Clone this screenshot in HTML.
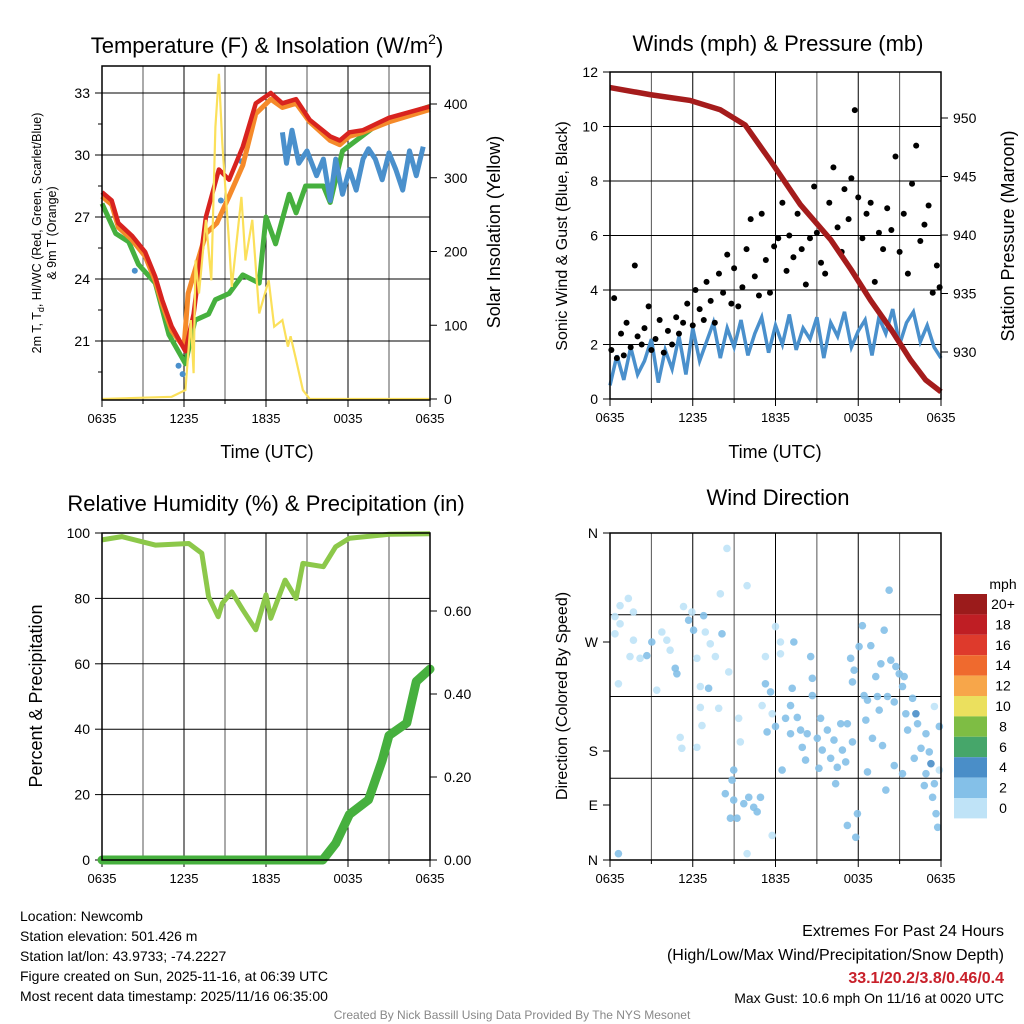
<!DOCTYPE html>
<html><head><meta charset="utf-8">
<style>
html,body{margin:0;padding:0;background:#fff;}
svg{display:block;font-family:"Liberation Sans",sans-serif;}
</style></head>
<body>
<svg id="s" width="1024" height="1024" viewBox="0 0 1024 1024" xmlns="http://www.w3.org/2000/svg"></svg>
<script>
// ===== Data =====
const xTickLabels = ["0635","1235","1835","0035","0635"];
const redTimes = [0,0.71,1.2,2.18,3.16,3.9,4.4,5.1,6.1,6.7,7.6,8.55,9.3,10.3,11.25,12.35,13.2,14.2,15.2,16.7,17.4,18.1,19.1,21.0,24];
const tempRed =  [28.2,27.8,26.7,26.1,25.3,24.1,23.0,21.7,20.5,22.3,27.0,29.3,28.8,30.4,32.5,33.0,32.5,32.7,31.7,30.9,30.7,31.1,31.2,31.8,32.35];
const orangeTimes = [0,0.71,1.2,2.18,3.16,3.9,4.4,5.1,6.0,6.3,7.6,8.4,9.3,10.3,11.25,12.35,13.2,14.2,15.2,16.7,17.4,18.1,19.1,21.0,24];
const tempOrange =  [28.0,27.6,26.5,25.9,25.1,23.9,22.8,21.5,20.7,23.3,26.2,26.7,28.0,29.5,32.0,32.7,32.3,32.5,31.6,30.7,30.5,30.9,31.1,31.6,32.2];
const greenTimes = [0,1.0,1.95,2.67,3.9,4.9,6.1,6.8,7.8,8.3,9.3,10.3,11.5,12.0,12.7,13.7,14.2,14.9,16.2,16.7,17.6,18.6,20.0,21.0,24];
const tempGreen =  [27.65,26.2,25.8,24.7,23.8,21.3,19.9,22.0,22.3,23.0,23.3,24.2,23.8,27.0,25.7,28.1,27.2,28.5,28.5,27.7,30.2,30.7,31.4,31.7,32.35];
const blueTimes = [13.2,13.5,13.9,14.4,15.0,15.7,16.2,16.7,17.1,17.6,18.1,18.6,19.1,19.5,20.0,20.5,21.0,21.5,22.0,22.5,23.0,23.5];
const tempBlue =  [31.1,29.6,31.2,29.6,30.2,29.0,29.8,27.8,29.8,28.1,29.3,28.3,29.8,30.3,29.8,28.8,30.1,29.3,28.3,30.2,29.0,30.4];
const blueDotTimes = [2.4,5.6,5.9,8.7,10.2,10.6];
const blueDotVals =  [24.4,19.8,19.4,27.8,29.7,30.4];
const solarTimes = [0,5.1,6.1,6.5,6.7,6.84,7.1,7.6,8.0,8.3,8.55,8.8,9.3,9.5,10.2,10.5,11.0,11.5,12.2,12.6,13.2,13.6,13.8,14.2,14.7,15.2,24];
const solarVals =  [0,3,12,107,35,188,143,243,161,369,441,347,211,152,274,188,243,116,161,98,107,71,85,53,12,0,0];
const windTimes = [0,0.5,1,1.5,2,2.5,3,3.5,4,4.5,5,5.5,6,6.5,7,7.5,8,8.5,9,9.5,10,10.5,11,11.5,12,12.5,13,13.5,14,14.5,15,15.5,16,16.5,17,17.5,18,18.5,19,19.5,20,20.5,21,21.5,22,22.5,23,23.5,24];
const windVals =  [0.5,1.6,0.7,1.9,0.9,1.4,2.2,0.6,1.8,1.1,2.3,0.9,2.6,1.4,2.1,2.8,1.5,2.6,1.9,2.9,1.6,2.4,3.0,1.7,2.7,2.0,3.1,1.8,2.6,2.2,3.0,1.5,2.8,2.3,3.2,1.9,2.5,2.9,1.6,3.0,2.4,3.3,2.0,2.8,3.2,2.1,2.7,1.9,1.5];
const pressTimes = [0,2.9,5.8,8,9.8,11.6,13.8,16,17.5,18.9,20.4,21.8,22.9,24];
const pressVals =  [952.6,952.0,951.5,950.7,949.4,946.4,942.6,939.6,937.0,934.4,931.9,929.3,927.6,926.6];
const gustTimes = [0.1,0.3,0.5,0.8,1.0,1.2,1.5,1.8,2.0,2.3,2.5,2.8,3.0,3.3,3.6,3.9,4.2,4.5,4.8,5.0,5.3,5.6,6.0,6.2,6.5,6.8,7.0,7.3,7.6,7.9,8.2,8.5,8.8,9.0,9.3,9.6,9.9,10.2,10.5,10.8,11.0,11.3,11.6,11.9,12.2,12.5,12.8,13.0,13.3,13.6,13.9,14.2,14.5,14.8,15.0,15.3,15.6,15.9,16.2,16.5,16.8,17.0,17.3,17.5,17.75,18.0,18.3,18.6,18.9,19.2,19.5,19.8,20.1,20.4,20.7,21.0,21.3,21.6,21.9,22.2,22.5,22.8,23.1,23.4,23.7,23.9];
const gustVals =  [1.8,3.7,1.5,2.4,1.6,2.8,1.9,4.9,2.3,2.0,2.6,3.4,1.8,2.2,2.9,1.7,2.5,2.0,3.0,2.4,2.8,3.5,2.7,4.0,3.3,2.9,4.3,3.6,2.8,4.6,3.9,5.3,3.5,4.8,3.4,4.1,5.5,6.6,4.5,3.8,6.8,5.1,3.9,5.6,5.9,7.2,4.7,6.0,5.2,6.8,5.5,4.2,5.9,7.8,6.1,5.0,4.6,7.2,8.5,6.3,5.4,7.7,6.6,8.1,10.6,7.4,5.9,6.8,7.2,4.3,6.1,5.5,7.0,6.2,8.9,5.4,6.8,4.6,7.9,9.3,5.8,6.4,7.1,3.9,4.9,4.1];
const rhTimes = [0,1.45,3.9,6.35,7.3,7.8,8.5,8.8,9.5,10.3,11.25,12.0,12.35,13.4,14.2,14.7,16.2,17.1,18.1,21.0,24];
const rhVals =  [97.9,98.9,96.3,96.8,93.8,80.5,74.4,78.5,82.0,76.5,70.4,81.1,73.9,85.6,80.0,90.7,89.7,95.8,98.4,99.6,99.8];
const precipTimes = [0,16.15,17.1,18.1,19.5,20.5,21.0,22.3,23.0,24];
const precipVals =  [0,0,0.04,0.11,0.145,0.24,0.30,0.33,0.43,0.46];
const dirTimes = [0.36,0.73,1.33,1.70,0.73,0.36,0.61,1.70,1.45,2.18,2.67,3.03,3.76,4.12,4.36,4.85,4.73,3.39,5.33,5.70,6.06,5.94,6.79,6.91,7.27,8.12,7.64,6.30,6.55,7.15,8.61,8.00,8.48,9.94,6.55,6.67,5.09,5.21,6.30,7.88,9.33,9.45,8.97,8.85,8.36,8.97,9.21,8.73,9.70,10.06,10.42,10.67,10.91,9.94,11.76,11.27,12.0,12.36,12.36,11.27,11.64,12.0,11.39,11.03,11.76,12.48,12.73,13.21,13.09,13.33,13.58,13.09,13.82,13.94,14.18,14.55,14.67,14.67,14.30,15.03,15.27,15.39,15.15,15.76,16.0,16.24,16.36,16.48,16.73,16.85,17.09,17.21,17.45,17.58,17.70,17.58,17.94,17.21,17.82,18.06,18.30,18.42,18.67,18.55,18.91,18.67,19.03,19.27,19.39,19.52,19.76,19.88,19.64,20.12,20.24,20.36,20.61,20.73,20.97,21.21,21.33,20.0,20.61,21.21,21.45,21.58,21.94,22.18,22.30,22.06,22.55,22.91,23.15,23.27,22.91,22.79,23.39,23.52,23.64,23.76,23.88,23.52,23.88,0.61];
const dirDegs =  [268,280,288,273,260,249,194,242,224,222,225,240,251,242,231,205,211,187,279,264,253,273,269,251,238,249,224,222,191,189,207,293,343,302,168,148,135,123,124,167,156,130,99,88,73,66,46,46,62,69,58,53,69,7,27,224,257,240,227,194,185,147,141,170,161,99,156,189,170,240,157,139,143,124,110,224,200,181,139,134,156,121,101,143,112,132,84,102,150,121,108,150,222,196,209,130,51,38,25,235,258,181,176,154,236,97,134,202,180,165,126,253,216,180,297,220,174,213,205,191,202,77,104,95,161,143,178,161,150,112,123,139,119,106,95,82,69,84,51,36,99,169,147,7];
const dirSpeed = [1,1,1,1,1,1,1,1,1,1,3,3,1,1,1,3,3,1,1,3,3,1,3,1,1,3,1,1,1,3,1,1,1,1,1,1,1,1,1,1,1,1,3,3,3,3,3,3,3,3,3,3,3,1,1,1,1,1,1,3,3,3,3,1,1,3,3,3,3,3,3,3,3,3,3,3,3,3,3,3,3,3,3,3,3,3,3,3,3,3,3,3,3,3,3,3,3,3,3,3,3,3,3,3,3,3,3,3,3,3,3,3,3,3,3,3,3,3,3,3,3,3,3,3,3,3,3,5,3,3,3,3,3,5,3,3,3,3,3,3,1,1,3,3,3,1];
const speedLabels = ["20+","18","16","14","12","10","8","6","4","2","0"];
const speedColors = ["#9b1b1b","#bf1e24","#de3a2c","#ef6a2e","#f7a64a","#ebe05e","#7ebd44","#46a66a","#4a8ec8","#84c0e8","#bfe3f7"];

// ===== Helpers =====
const svg = document.getElementById('s');
const NS = "http://www.w3.org/2000/svg";
function mk(tag, attrs, parent){ const e=document.createElementNS(NS,tag); for(const k in attrs) e.setAttribute(k,attrs[k]); (parent||svg).appendChild(e); return e; }
function txt(x,y,s,size,anchor,extra){ const e=mk('text',Object.assign({x:x,y:y,'font-size':size,'text-anchor':anchor||'middle',fill:'#000'},extra||{})); e.textContent=s; return e; }
function lin(d0,d1,r0,r1){ return v=> r0+(v-d0)*(r1-r0)/(d1-d0); }
function pathOf(ts,vs,fx,fy){ const n=Math.min(ts.length,vs.length); let d=''; for(let i=0;i<n;i++) d+=(i?'L':'M')+fx(ts[i]).toFixed(1)+','+fy(vs[i]).toFixed(1); return d; }
function colorFor(s){ const i=Math.min(10,Math.floor(s/2)); return speedColors[10-i]; }
function frame(name){ const g=mk('g',{});   return g; }
function xAxis(g,x0,x1,yb){
  const fx=lin(0,24,x0,x1);
  for(let h=0;h<=24;h+=3){ const X=fx(h); mk('line',{x1:X,y1:yb,x2:X,y2:yb+(h%6?4:7),stroke:'#000','stroke-width':1},g); }
  xTickLabels.forEach((s,i)=>{ const l=txt(fx(i*6),yb+23,s,13,'middle');   });
  return fx;
}
function vgrid(g,fx,y0,y1){ for(let h=3;h<24;h+=3){ mk('line',{x1:fx(h),y1:y0,x2:fx(h),y2:y1,stroke:(h%6?'#555':'#000'),'stroke-width':1},g);} }
function box(g,x0,y0,x1,y1){ mk('rect',{x:x0,y:y0,width:x1-x0,height:y1-y0,fill:'none',stroke:'#000','stroke-width':1.5},g); }

// ===== Panel 1: Temperature =====
{
  const X0=102,X1=430,Y0=66,Y1=400;
  const g=frame('temperature-panel');
  const fx=lin(0,24,X0,X1);
  const fy=lin(33,21,93,341);
  const fs=lin(0,400,399,104);
  vgrid(g,fx,Y0,Y1);
  [33,30,27,24,21].forEach(v=>{ mk('line',{x1:X0,y1:fy(v),x2:X1,y2:fy(v),stroke:'#000'},g); mk('line',{x1:X0-7,y1:fy(v),x2:X0,y2:fy(v),stroke:'#000'},g); const l=txt(X0-12,fy(v)+5,String(v),14,'end');   });
  [31.5,28.5,25.5,22.5,19.5].forEach(v=>mk('line',{x1:X0-4,y1:fy(v),x2:X0,y2:fy(v),stroke:'#000'},g));
  [0,100,200,300,400].forEach(v=>{ mk('line',{x1:X1,y1:fs(v),x2:X1+7,y2:fs(v),stroke:'#000'},g); const l=txt(X1+14,fs(v)+5,String(v),14,'start');   });
  xAxis(g,X0,X1,Y1);
  const gr=mk('path',{d:pathOf(greenTimes,tempGreen,fx,fy),fill:'none',stroke:'#46b03e','stroke-width':5,'stroke-linejoin':'round'},g);
   
  const bl=mk('path',{d:pathOf(blueTimes,tempBlue,fx,fy),fill:'none',stroke:'#4a90cc','stroke-width':5,'stroke-linejoin':'round'},g);
   
  blueDotTimes.forEach((t,i)=>{ const c=mk('circle',{cx:fx(t),cy:fy(blueDotVals[i]),r:3,fill:'#4a90cc'},g);   });
  const or=mk('path',{d:pathOf(orangeTimes,tempOrange,fx,fy),fill:'none',stroke:'#f58a2a','stroke-width':5,'stroke-linejoin':'round'},g);
   
  const rd=mk('path',{d:pathOf(redTimes,tempRed,fx,fy),fill:'none',stroke:'#d8231f','stroke-width':4.5,'stroke-linejoin':'round'},g);
   
  const sol=mk('path',{d:pathOf(solarTimes,solarVals,fx,fs),fill:'none',stroke:'#fbe05a','stroke-width':2.2},g);
   
  box(g,X0,Y0,X1,Y1);
  const t=mk('text',{x:267,y:53,'font-size':22,'text-anchor':'middle'});
  t.innerHTML='Temperature (F) &amp; Insolation (W/m<tspan dy="-9" font-size="14">2</tspan><tspan dy="9">)</tspan>';
   
  const xl=txt(267,458,'Time (UTC)',18);  
  const yl=mk('text',{x:0,y:0,'font-size':12.5,'text-anchor':'middle',transform:'translate(41,233) rotate(-90)'});
  yl.innerHTML='2m T, T<tspan dy="3" font-size="9">d</tspan><tspan dy="-3">, HI/WC (Red, Green, Scarlet/Blue)</tspan>';
   
  const yl2=txt(0,0,'& 9m T (Orange)',12.5,'middle',{transform:'translate(56,233) rotate(-90)'});
   
  const yr=txt(0,0,'Solar Insolation (Yellow)',18,'middle',{transform:'translate(500,232) rotate(-90)'});
   
}

// ===== Panel 2: Winds =====
{
  const X0=610,X1=941,Y0=72,Y1=399;
  const g=frame('winds-panel');
  const fx=lin(0,24,X0,X1);
  const fy=lin(0,12,399,72);
  const fp=lin(930,950,352,118);
  vgrid(g,fx,Y0,Y1);
  [0,2,4,6,8,10,12].forEach(v=>{ if(v>0&&v<12) mk('line',{x1:X0,y1:fy(v),x2:X1,y2:fy(v),stroke:'#000'},g); mk('line',{x1:X0-7,y1:fy(v),x2:X0,y2:fy(v),stroke:'#000'},g); const l=txt(X0-12,fy(v)+5,String(v),14,'end');   });
  [930,935,940,945,950].forEach(v=>{ mk('line',{x1:X1,y1:fp(v),x2:X1+7,y2:fp(v),stroke:'#000'},g); const l=txt(X1+12,fp(v)+5,String(v),14,'start');   });
  xAxis(g,X0,X1,Y1);
  const wl=mk('path',{d:pathOf(windTimes,windVals,fx,fy),fill:'none',stroke:'#4a90cc','stroke-width':3.5},g);
   
  gustTimes.forEach((t,i)=>{ const c=mk('circle',{cx:fx(t),cy:fy(gustVals[i]),r:3,fill:'#000'},g);
      });
  const pl=mk('path',{d:pathOf(pressTimes,pressVals,fx,fp),fill:'none',stroke:'#a51c1c','stroke-width':5.5},g);
   
  box(g,X0,Y0,X1,Y1);
  const t=txt(778,51,'Winds (mph) & Pressure (mb)',22);  
  const xl=txt(775,458,'Time (UTC)',18);  
  const yl=txt(0,0,'Sonic Wind & Gust (Blue, Black)',16,'middle',{transform:'translate(567,236) rotate(-90)'});
   
  const yr=txt(0,0,'Station Pressure (Maroon)',18,'middle',{transform:'translate(1014,236) rotate(-90)'});
   
}

// ===== Panel 3: RH & Precip =====
{
  const X0=102,X1=430,Y0=533,Y1=860;
  const g=frame('humidity-panel');
  const fx=lin(0,24,X0,X1);
  const fy=lin(0,100,860,533);
  const fp=lin(0,0.6,860,611);
  vgrid(g,fx,Y0,Y1);
  [0,20,40,60,80,100].forEach(v=>{ if(v>0&&v<100) mk('line',{x1:X0,y1:fy(v),x2:X1,y2:fy(v),stroke:'#000'},g); mk('line',{x1:X0-7,y1:fy(v),x2:X0,y2:fy(v),stroke:'#000'},g); const l=txt(X0-12,fy(v)+5,String(v),14,'end');   });
  [0,0.2,0.4,0.6].forEach(v=>{ mk('line',{x1:X1,y1:fp(v),x2:X1+7,y2:fp(v),stroke:'#000'},g); const l=txt(X1+14,fp(v)+5,v.toFixed(2),14,'start');   });
  xAxis(g,X0,X1,Y1);
  const rl=mk('path',{d:pathOf(rhTimes,rhVals,fx,fy),fill:'none',stroke:'#8cc84a','stroke-width':5,'stroke-linejoin':'round'},g);
   
  const pl=mk('path',{d:pathOf(precipTimes,precipVals,fx,fp),fill:'none',stroke:'#46b03e','stroke-width':9,'stroke-linecap':'round','stroke-linejoin':'round'},g);
   
  box(g,X0,Y0,X1,Y1);
  const t=txt(266,511,'Relative Humidity (%) & Precipitation (in)',22);  
  const yl=txt(0,0,'Percent & Precipitation',18,'middle',{transform:'translate(42,696) rotate(-90)'});
   
}

// ===== Panel 4: Wind Direction =====
{
  const X0=610,X1=941,Y0=533,Y1=860;
  const g=frame('wind-direction-panel');
  const fx=lin(0,24,X0,X1);
  const fy=lin(0,360,860,533);
  vgrid(g,fx,Y0,Y1);
  [90,180,270].forEach(v=>mk('line',{x1:X0,y1:fy(v),x2:X1,y2:fy(v),stroke:'#000'},g));
  [[533,'N'],[642,'W'],[751,'S'],[805,'E'],[860,'N']].forEach(([y,s])=>{ mk('line',{x1:X0-7,y1:y,x2:X0,y2:y,stroke:'#000'},g); const l=txt(X0-12,y+5,s,14,'end');   });
  xAxis(g,X0,X1,Y1);
  const n=Math.min(dirTimes.length,dirDegs.length);
  for(let i=0;i<n;i++){ const c=mk('circle',{cx:fx(dirTimes[i]),cy:fy(dirDegs[i]),r:3.8,fill:colorFor(dirSpeed[i]===undefined?1:dirSpeed[i]),'fill-opacity':0.9},g);
      }
  box(g,X0,Y0,X1,Y1);
  const t=txt(778,505,'Wind Direction',22);  
  const yl=txt(0,0,'Direction (Colored By Speed)',16,'middle',{transform:'translate(567,696) rotate(-90)'});
   
  const lg=mk('g',{});
   
  const lt=txt(1003,589,'mph',14,'middle');  
  speedLabels.forEach((s,i)=>{ const y=594+i*20.4;
    const r=mk('rect',{x:954,y:y,width:33,height:20.4,fill:speedColors[i]},lg);
     
    const l=txt(1003,y+15,s,14,'middle');   });
}

// ===== Footer =====
{
  const lines=["Location: Newcomb","Station elevation: 501.426 m","Station lat/lon: 43.9733; -74.2227","Figure created on Sun, 2025-11-16, at 06:39 UTC","Most recent data timestamp: 2025/11/16 06:35:00"];
  lines.forEach((s,i)=>{ const l=txt(20,921+i*20,s,14,'start');   });
  const a=txt(1004,936,'Extremes For Past 24 Hours',16,'end');  
  const b=txt(1004,960,'(High/Low/Max Wind/Precipitation/Snow Depth)',16,'end');  
  const c=txt(1004,983,'33.1/20.2/3.8/0.46/0.4',16,'end',{fill:'#c8202a','font-weight':'bold'});  
  const d=txt(1004,1003,'Max Gust: 10.6 mph On 11/16 at 0020 UTC',14,'end');  
  const e=txt(512,1019,'Created By Nick Bassill Using Data Provided By The NYS Mesonet',12,'middle',{fill:'#888'});  
}
</script>
</body></html>
